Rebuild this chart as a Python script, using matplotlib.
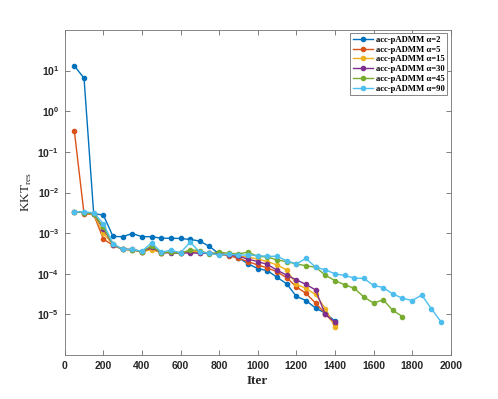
import matplotlib
matplotlib.use('Agg')
import matplotlib.pyplot as plt
import numpy as np
from matplotlib.ticker import FuncFormatter

# --- данные ---
iters = [50, 100, 150, 200, 250, 300, 350, 400, 450, 500, 550, 600, 650, 700,
         750, 800, 850, 900, 950, 1000, 1050, 1100, 1150, 1200, 1250, 1300,
         1350, 1400, 1450, 1500, 1550, 1600, 1650, 1700, 1750, 1800, 1850,
         1900, 1950]

kkt_a2 = [13, 6.5, 3.0e-3, 2.8e-3, 8.3e-4, 8.2e-4, 9.8e-4, 8.2e-4, 8.2e-4,
          7.5e-4, 7.5e-4, 7.4e-4, 7.0e-4, 6.4e-4, 4.7e-4, 3.1e-4, 2.9e-4,
          2.5e-4, 1.75e-4, 1.35e-4, 1.2e-4, 8.2e-5, 5.7e-5, 2.8e-5, 2.2e-5,
          1.44e-5, 1.08e-5, 6.9e-6]
kkt_a5 = [0.32, 3.0e-3, 2.9e-3, 7.2e-4, 5.0e-4, 4.0e-4, 4.0e-4, 3.5e-4, 4.2e-4,
          3.3e-4, 3.4e-4, 3.3e-4, 3.4e-4, 3.3e-4, 3.2e-4, 3.0e-4, 2.8e-4,
          2.4e-4, 2.0e-4, 1.65e-4, 1.4e-4, 1.12e-4, 8.0e-5, 4.8e-5, 3.3e-5,
          1.9e-5, 1.05e-5, 5.7e-6]
kkt_a15 = [3.4e-3, 3.2e-3, 2.9e-3, 1.0e-3, 5.2e-4, 4.0e-4, 3.9e-4, 3.5e-4,
           3.9e-4, 3.3e-4, 3.4e-4, 3.2e-4, 3.6e-4, 3.4e-4, 3.2e-4, 3.0e-4,
           2.9e-4, 2.7e-4, 2.6e-4, 2.3e-4, 2.0e-4, 1.65e-4, 1.25e-4, 5.5e-5,
           4.4e-5, 3.1e-5, 1.4e-5, 5.0e-6]
kkt_a30 = [3.4e-3, 3.2e-3, 3.0e-3, 1.3e-3, 5.2e-4, 4.0e-4, 3.9e-4, 3.5e-4,
           4.5e-4, 3.3e-4, 3.3e-4, 3.2e-4, 3.3e-4, 3.2e-4, 3.2e-4, 3.1e-4,
           2.9e-4, 2.7e-4, 2.3e-4, 2.0e-4, 1.7e-4, 1.23e-4, 9.3e-5, 7.1e-5,
           5.5e-5, 4.0e-5, 1.0e-5, 6.5e-6]
kkt_a45 = [3.4e-3, 3.2e-3, 3.0e-3, 1.4e-3, 5.3e-4, 4.0e-4, 3.9e-4, 3.5e-4,
           4.9e-4, 3.3e-4, 3.4e-4, 3.2e-4, 3.9e-4, 3.7e-4, 3.1e-4, 3.4e-4,
           3.2e-4, 3.1e-4, 3.4e-4, 2.7e-4, 2.6e-4, 2.2e-4, 2.0e-4, 1.75e-4,
           1.58e-4, 1.45e-4, 9.3e-5, 6.8e-5, 5.4e-5, 4.4e-5, 2.7e-5, 1.9e-5,
           2.3e-5, 1.26e-5, 8.9e-6]
kkt_a90 = [3.4e-3, 3.3e-3, 3.2e-3, 1.7e-3, 5.5e-4, 4.0e-4, 4.0e-4, 3.6e-4,
           5.8e-4, 3.4e-4, 3.8e-4, 3.3e-4, 6.0e-4, 3.4e-4, 3.2e-4, 2.9e-4,
           3.0e-4, 2.9e-4, 2.9e-4, 2.8e-4, 2.7e-4, 2.7e-4, 2.1e-4, 1.75e-4,
           2.4e-4, 1.45e-4, 1.26e-4, 1.0e-4, 9.1e-5, 7.9e-5, 7.7e-5, 5.2e-5,
           4.6e-5, 3.2e-5, 2.5e-5, 2.2e-5, 3.0e-5, 1.38e-5, 6.6e-6]

series = [kkt_a2, kkt_a5, kkt_a15, kkt_a30, kkt_a45, kkt_a90]
alphas = [2, 5, 15, 30, 45, 90]
colors = ['#0072BD', '#D95319', '#EDB120', '#7E2F8E', '#77AC30', '#4DBEEE']

plt.rcParams['font.family'] = ['Liberation Sans', 'DejaVu Sans']

fig = plt.figure(figsize=(4.98, 3.99), dpi=100)
ax = fig.add_axes([0.13, 0.11, 0.775, 0.815])

for y, a, c in zip(series, alphas, colors):
    ax.plot(iters[:len(y)], y, '-o', color=c, lw=1.0, ms=3,
            label='acc-pADMM α=%d' % a)

ax.set_yscale('log')
ax.set_xlim(0, 2000)
ax.set_ylim(1e-6, 1e2)
ax.set_xticks(range(0, 2001, 200))
ax.set_yticks([1e-5, 1e-4, 1e-3, 1e-2, 1e-1, 1e0, 1e1])
ax.yaxis.set_major_formatter(
    FuncFormatter(lambda v, p: r'$\mathregular{10^{%d}}$' % round(np.log10(v))))
ax.minorticks_off()
ax.tick_params(direction='in', top=True, right=True, length=3.5, width=0.5,
               color='0.3', labelsize=7.5, pad=4)
for t in ax.get_xticklabels() + ax.get_yticklabels():
    t.set_fontfamily(['Liberation Sans', 'DejaVu Sans'])
    t.set_fontweight('bold')
    t.set_color('0.15')
for s in ax.spines.values():
    s.set_linewidth(0.6)
    s.set_color('0.45')

ax.set_xlabel('Iter', family='Liberation Serif', fontsize=9.5,
              fontweight='bold', color='0.15', labelpad=3)
ax.set_ylabel(r'KKT$_{\mathregular{res}}$', family='Liberation Serif',
              fontsize=9.5, color='0.15', labelpad=2)

leg = ax.legend(loc='upper right', fancybox=False, framealpha=1,
                edgecolor='0.45', borderaxespad=0.4, handlelength=2.4,
                labelspacing=0.2, borderpad=0.3, handletextpad=0.3,
                prop={'family': 'Liberation Serif', 'weight': 'bold', 'size': 6.2})
leg.get_frame().set_linewidth(0.6)

fig.savefig('out.png', dpi=100)
